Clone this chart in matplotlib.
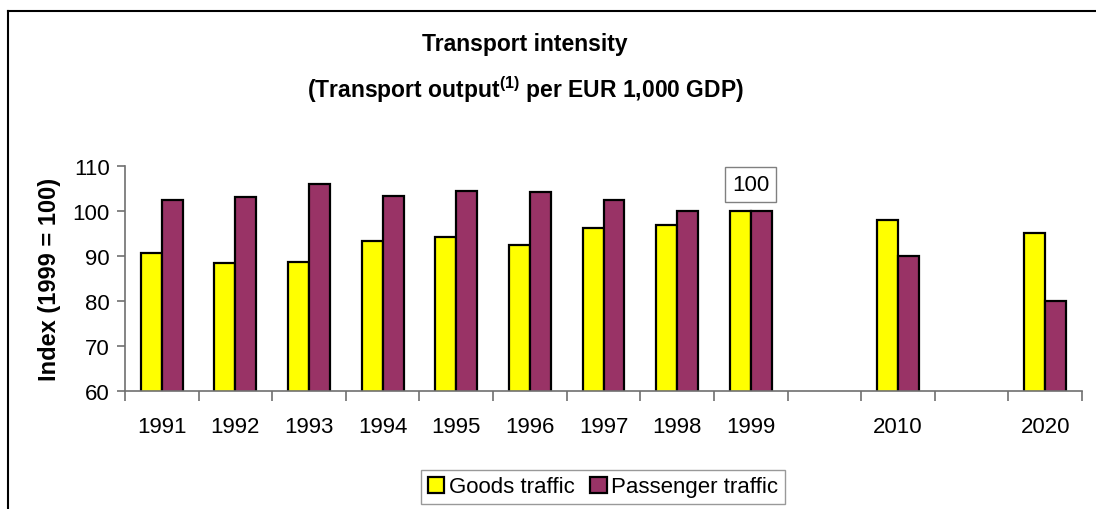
import numpy as np
import matplotlib.pyplot as plt
from matplotlib.lines import Line2D

plt.rcParams['font.family'] = ['Liberation Sans', 'DejaVu Sans']
plt.rcParams['mathtext.fontset'] = 'custom'
plt.rcParams['mathtext.rm'] = 'Liberation Sans:bold'
plt.rcParams['mathtext.it'] = 'Liberation Sans:bold'
plt.rcParams['mathtext.bf'] = 'Liberation Sans:bold'

# categories (empty strings are the gaps in the time axis)
years = ['1991', '1992', '1993', '1994', '1995', '1996', '1997', '1998', '1999',
         '', '2010', '', '2020']
goods = [90.6, 88.5, 88.6, 93.4, 94.2, 92.4, 96.1, 96.9, 100, np.nan, 98, np.nan, 95]
passenger = [102.4, 103.0, 105.9, 103.2, 104.5, 104.2, 102.5, 100.0, 100, np.nan, 90, np.nan, 80]

goods_col = '#ffff00'
pass_col = '#993366'
axis_col = '#707070'
fs = 16

fig = plt.figure(figsize=(10.96, 5.10), dpi=100)
ax = fig.add_axes([125/1096, 1 - 392.3/510, (1082 - 125)/1096, (392.3 - 166.7)/510])

x = np.arange(len(years))
w = 0.285
ax.bar(x - w/2, goods, w, color=goods_col, edgecolor='black', linewidth=1.6,
       label='Goods traffic')
ax.bar(x + w/2, passenger, w, color=pass_col, edgecolor='black', linewidth=1.6,
       label='Passenger traffic')

ax.set_xlim(-0.5, len(years) - 0.5)
ax.set_ylim(60, 110)
ax.set_yticks(range(60, 111, 10))
ax.set_xticks(x)
ax.set_xticklabels(years)
ax.set_xticks(np.arange(-0.5, len(years), 1), minor=True)
ax.tick_params(axis='x', which='major', length=0, pad=18, labelsize=fs)
ax.tick_params(axis='x', which='minor', length=7, width=1.2, color=axis_col, direction='out')
ax.tick_params(axis='y', length=6, width=1.2, color=axis_col, pad=5, labelsize=fs)

for s in ['top', 'right']:
    ax.spines[s].set_visible(False)
for s in ['left', 'bottom']:
    ax.spines[s].set_color(axis_col)
    ax.spines[s].set_linewidth(1.2)

# value box for 1999
ax.annotate('100', xy=(8, 100), xytext=(0, 19), textcoords='offset points',
            ha='center', va='center', fontsize=fs,
            bbox=dict(boxstyle='square,pad=0.3', fc='white', ec='#808080', lw=1))

fig.text(50/1096, 1 - 279.5/510, 'Index (1999 = 100)', rotation=90, ha='center',
         va='center', fontsize=17, fontweight='bold')

fig.text(525/1096, 1 - 45/510, 'Transport intensity', ha='center', va='center',
         fontsize=16.5, fontweight='bold')
fig.text(525/1096, 1 - 90/510, r'(Transport output$^{(1)}$ per EUR 1,000 GDP)',
         ha='center', va='center', fontsize=16.5, fontweight='bold')

leg = fig.legend(loc='center', bbox_to_anchor=(603/1096, 1 - 488/510), ncol=2,
                 fontsize=fs, frameon=True, fancybox=False, handlelength=0.75,
                 handleheight=0.75, handletextpad=0.2, columnspacing=0.7,
                 borderpad=0.3, borderaxespad=0)
leg.get_frame().set_edgecolor('#808080')
leg.get_frame().set_linewidth(1)

# outer chart frame (top and left edges visible)
fig.add_artist(Line2D([8/1096, 1], [1 - 12/510, 1 - 12/510], color='black', lw=1.5,
                      transform=fig.transFigure))
fig.add_artist(Line2D([8/1096, 8/1096], [1 - 12/510, 0], color='black', lw=1.5,
                      transform=fig.transFigure))

fig.savefig('out.png', dpi=100)
